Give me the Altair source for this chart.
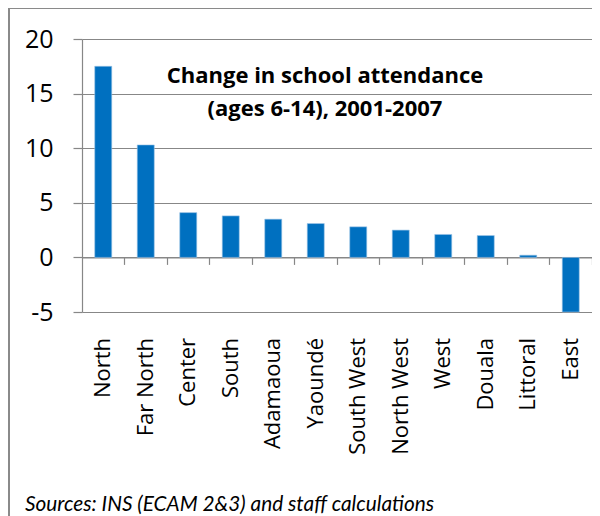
import altair as alt
import pandas as pd

categories = ["North", "Far North", "Center", "South", "Adamaoua", "Yaoundé",
              "South West", "North West", "West", "Douala", "Littoral", "East"]
values = [17.5, 10.3, 4.1, 3.8, 3.5, 3.1, 2.8, 2.5, 2.1, 2.0, 0.2, -5.0]
y_ticks = [-5, 0, 5, 10, 15, 20]
title_lines = ["Change in school attendance", "(ages 6-14), 2001-2007"]
source_note = "Sources: INS (ECAM 2&3) and staff calculations"

df = pd.DataFrame({"region": categories, "change": values})

W, H = 510, 273
GREY = "#878787"

bars = alt.Chart(df).mark_bar(color="#0070C0", stroke="#9cc3e6", strokeWidth=0.6).encode(
    x=alt.X("region:N", sort=categories,
            scale=alt.Scale(paddingInner=0.6, paddingOuter=0.3),
            axis=alt.Axis(title=None, orient="bottom", offset=-H * 5 / 25,
                          labelAngle=270, labelFont="Open Sans", labelFontSize=22,
                          labelColor="black", labelPadding=73,
                          domainColor=GREY, domainWidth=1.2,
                          tickColor=GREY, tickSize=7, tickWidth=1.2,
                          bandPosition=1.75, grid=False)),
    y=alt.Y("change:Q", scale=alt.Scale(domain=[-5, 20], nice=False, zero=False),
            axis=alt.Axis(title=None, values=y_ticks, labelExpr="'' + datum.value",
                          labelFont="Open Sans",
                          labelFontSize=25, labelColor="black", labelPadding=20,
                          domainColor=GREY, domainWidth=1.2,
                          tickColor=GREY, tickSize=9, tickWidth=1.2,
                          grid=True, gridColor=GREY, gridWidth=1.2)),
)

base_txt = alt.Chart(pd.DataFrame({"t": [0]}))

title1 = base_txt.mark_text(font="Open Sans", fontWeight="bold", fontSize=22,
                            align="center", baseline="alphabetic", color="black").encode(
    x=alt.value(243), y=alt.value(44), text=alt.value(title_lines[0]))
title2 = base_txt.mark_text(font="Open Sans", fontWeight="bold", fontSize=22,
                            align="center", baseline="alphabetic", color="black").encode(
    x=alt.value(243), y=alt.value(77), text=alt.value(title_lines[1]))

source = base_txt.mark_text(font="Lato", fontStyle="italic", fontSize=20.8,
                            align="left", baseline="alphabetic", color="black").encode(
    x=alt.value(-57), y=alt.value(472), text=alt.value(source_note))

frame = base_txt.mark_rect(filled=False, stroke="#8a8a8a", strokeWidth=2).encode(
    x=alt.value(-73), x2=alt.value(700), y=alt.value(-31), y2=alt.value(700))

chart = alt.layer(frame, bars, title1, title2, source).properties(
    width=W, height=H,
    autosize=alt.AutoSizeParams(type="none"),
    padding={"left": 74, "top": 31, "right": 0, "bottom": 204},
).configure_view(strokeWidth=0)

chart.save("out.html", embed_options={"renderer": "svg", "actions": False})
